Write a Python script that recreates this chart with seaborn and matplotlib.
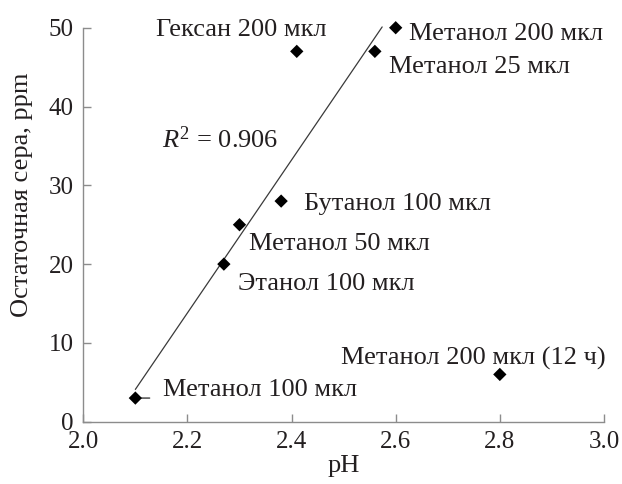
import numpy as np
import pandas as pd
import matplotlib
matplotlib.use("Agg")
import matplotlib.pyplot as plt
import seaborn as sns

# ---- data ----
labels = ["Метанол 100 мкл", "Этанол 100 мкл", "Метанол 50 мкл", "Бутанол 100 мкл",
          "Гексан 200 мкл", "Метанол 25 мкл", "Метанол 200 мкл", "Метанол 200 мкл (12 ч)"]
ph = [2.10, 2.27, 2.30, 2.38, 2.41, 2.56, 2.60, 2.80]
sulfur = [3, 20, 25, 28, 47, 47, 50, 6]
trend_ph = [2.10, 2.574]
trend_sulfur = [4.1, 50.1]
r2_text = "$R^2$ = 0.906"
x_ticks = [2.0, 2.2, 2.4, 2.6, 2.8, 3.0]
y_ticks = [0, 10, 20, 30, 40, 50]

df = pd.DataFrame({"pH": ph, "S": sulfur, "label": labels})
trend = pd.DataFrame({"pH": trend_ph, "S": trend_sulfur})

sns.set_style("ticks")
plt.rcParams["font.family"] = ["Liberation Serif", "DejaVu Serif"]
plt.rcParams["mathtext.fontset"] = "custom"
plt.rcParams["mathtext.rm"] = "Liberation Serif"
plt.rcParams["mathtext.it"] = "Liberation Serif:italic"

TXT = "#231f20"
GREY = "#8c8c8c"
FS = 19
TFS = 18

fig = plt.figure(figsize=(6.22, 4.84), dpi=100)
ax = fig.add_axes([0.1339, 0.1287, 0.8371, 0.8140])

sns.lineplot(data=trend, x="pH", y="S", ax=ax, color="#3a3a3a", linewidth=0.9,
             estimator=None, sort=False)
sns.scatterplot(data=df, x="pH", y="S", ax=ax, marker="D", s=46, color="black",
                edgecolor="none", linewidth=0, zorder=5, clip_on=False)
for c in ax.collections:
    c.set_clip_on(False)
for l in ax.lines:
    l.set_clip_on(False)

# label offsets in points (text baseline-left relative to point)
offsets = [(19.9, 1.7), (10.1, -18.7), (7.2, -18.2), (16.1, -6.7),
           (-101.1, 11.3), (10.1, -15.6), (9.4, -8.9), (-114.3, 7.2)]
for (lab, x, y), (dx, dy) in zip(zip(labels, ph, sulfur), offsets):
    ax.annotate(lab, xy=(x, y), xytext=(dx, dy), textcoords="offset points",
                ha="left", va="baseline", fontsize=FS, color=TXT)

# leader for first label
ax.annotate("", xy=(ph[0], sulfur[0]), xytext=(10.3, 0), textcoords="offset points",
            arrowprops=dict(arrowstyle="-", color="#3a3a3a", lw=1.0,
                            shrinkA=0, shrinkB=4.3))

ax.text(0.1517, 0.6954, r2_text, transform=ax.transAxes, ha="left", va="baseline",
        fontsize=FS, color=TXT)

ax.set_xlim(2.0, 3.0)
ax.set_ylim(0, 50)
ax.set_xticks(x_ticks)
ax.set_xticklabels([f"{t:.1f}" for t in x_ticks])
ax.set_yticks(y_ticks)
ax.set_xlabel("pH", fontsize=FS, color=TXT, labelpad=1)
ax.set_ylabel("Остаточная сера, ppm", fontsize=FS, color=TXT)
ax.yaxis.set_label_coords(-0.0966, 0.575)

for side in ["top", "right"]:
    ax.spines[side].set_visible(False)
for side in ["left", "bottom"]:
    ax.spines[side].set_color(GREY)
    ax.spines[side].set_linewidth(1.0)
ax.tick_params(axis="both", direction="in", length=5.5, width=1.0, color=GREY,
               labelsize=TFS, labelcolor=TXT, pad=7)

fig.savefig("out.png", dpi=100)
